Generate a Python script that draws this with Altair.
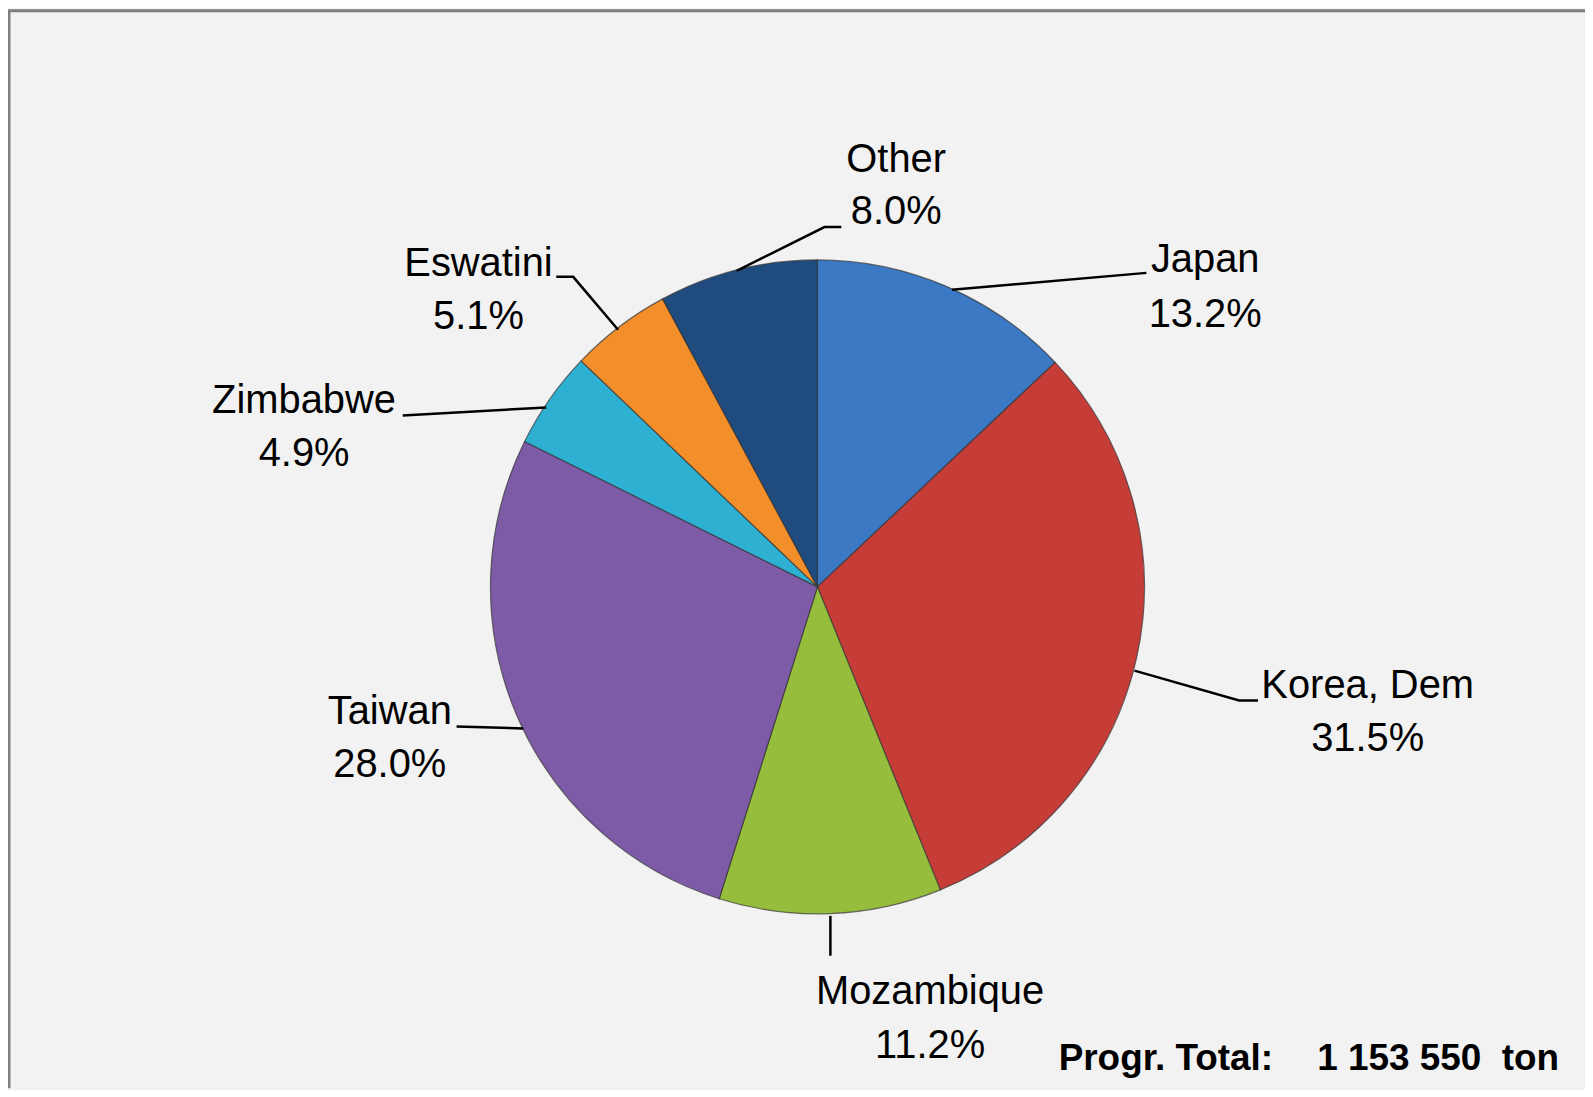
import altair as alt
import pandas as pd

# ---- data ----
countries = ["Japan", "Korea, Dem", "Mozambique", "Taiwan", "Zimbabwe", "Eswatini", "Other"]
shares = [13.2, 31.5, 11.2, 28.0, 4.9, 5.1, 8.0]
pct_labels = ["13.2%", "31.5%", "11.2%", "28.0%", "4.9%", "5.1%", "8.0%"]
colors = ["#3c79c4", "#c63d38", "#97bd3d", "#7d5ba6", "#2eb0d3", "#f38f2b", "#1f4b7e"]
total_label = "Progr. Total:"
total_value = "1 153 550\u00a0 ton"

# ---- layout (chart pixel coordinates, not data) ----
W, H = 1582, 1082
CX, CY, R = 812, 579, 328
FONT = "Liberation Sans, Arial, sans-serif"

label_x = [1201, 1364, 925, 383, 297, 472, 891]
name_base = [263, 690, 997, 717, 405, 267, 163]
pct_base = [318, 744, 1052, 770, 458, 320, 215]

leaders = {
    "Japan": [(1142, 264), (947, 281)],
    "Korea, Dem": [(1254, 693), (1235, 693), (1130, 663)],
    "Mozambique": [(825, 909), (825, 949)],
    "Taiwan": [(450, 719), (517, 721)],
    "Zimbabwe": [(396, 407), (540, 399)],
    "Eswatini": [(550, 268), (567, 268), (612, 321)],
    "Other": [(836, 218), (819, 218), (731, 262)],
}

pie_df = pd.DataFrame({"country": countries, "share": shares, "idx": range(len(countries))})

lab_rows = []
for i, c in enumerate(countries):
    lab_rows.append({"t": c, "x": label_x[i], "y": name_base[i]})
    lab_rows.append({"t": pct_labels[i], "x": label_x[i], "y": pct_base[i]})
lab_df = pd.DataFrame(lab_rows)

lead_rows = []
for c, pts in leaders.items():
    for k, (px, py) in enumerate(pts):
        lead_rows.append({"country": c, "k": k, "x": px, "y": py})
lead_df = pd.DataFrame(lead_rows)

border_df = pd.DataFrame({"x": [1, 1, W], "y": [H, 1, 1], "k": [0, 1, 2]})

color_scale = alt.Scale(domain=countries, range=colors)

shadow = alt.Chart(pd.DataFrame({"v": [1]})).mark_arc(
    radius=R + 2, color="black", opacity=0.18
).encode(theta=alt.Theta("v:Q"), x=alt.value(CX + 4), y=alt.value(CY + 6))

pie = alt.Chart(pie_df).mark_arc(radius=R, stroke="#333333", strokeWidth=1.2, strokeOpacity=0.7).encode(
    theta=alt.Theta("share:Q", stack=True),
    order=alt.Order("idx:Q"),
    color=alt.Color("country:N", scale=color_scale, legend=None),
    x=alt.value(CX),
    y=alt.value(CY),
)

leader_lines = alt.Chart(lead_df).mark_line(color="black", strokeWidth=2.5).encode(
    x=alt.X("x:Q", scale=None, axis=None),
    y=alt.Y("y:Q", scale=None, axis=None),
    detail="country:N",
    order="k:Q",
)

labels = alt.Chart(lab_df).mark_text(
    font=FONT, fontSize=40, color="black", align="center", baseline="alphabetic"
).encode(
    x=alt.X("x:Q", scale=None, axis=None),
    y=alt.Y("y:Q", scale=None, axis=None),
    text="t:N",
)

tot1 = alt.Chart(pd.DataFrame({"t": [total_label], "x": [1054], "y": [1064]})).mark_text(
    font=FONT, fontSize=37, fontWeight="bold", color="black", align="left", baseline="alphabetic"
).encode(x=alt.X("x:Q", scale=None, axis=None), y=alt.Y("y:Q", scale=None, axis=None), text="t:N")

tot2 = alt.Chart(pd.DataFrame({"t": [total_value], "x": [1556], "y": [1064]})).mark_text(
    font=FONT, fontSize=37, fontWeight="bold", color="black", align="right", baseline="alphabetic"
).encode(x=alt.X("x:Q", scale=None, axis=None), y=alt.Y("y:Q", scale=None, axis=None), text="t:N")

border = alt.Chart(border_df).mark_line(color="#7f7f7f", strokeWidth=3).encode(
    x=alt.X("x:Q", scale=None, axis=None),
    y=alt.Y("y:Q", scale=None, axis=None),
    order="k:Q",
)

chart = alt.layer(shadow, pie, leader_lines, labels, tot1, tot2, border).properties(
    width=W, height=H, background="#f2f2f2", padding=0,
    autosize=alt.AutoSizeParams(type="none"),
).configure_view(stroke=None)

chart.save("out.html", embed_options={"renderer": "svg", "actions": False})
